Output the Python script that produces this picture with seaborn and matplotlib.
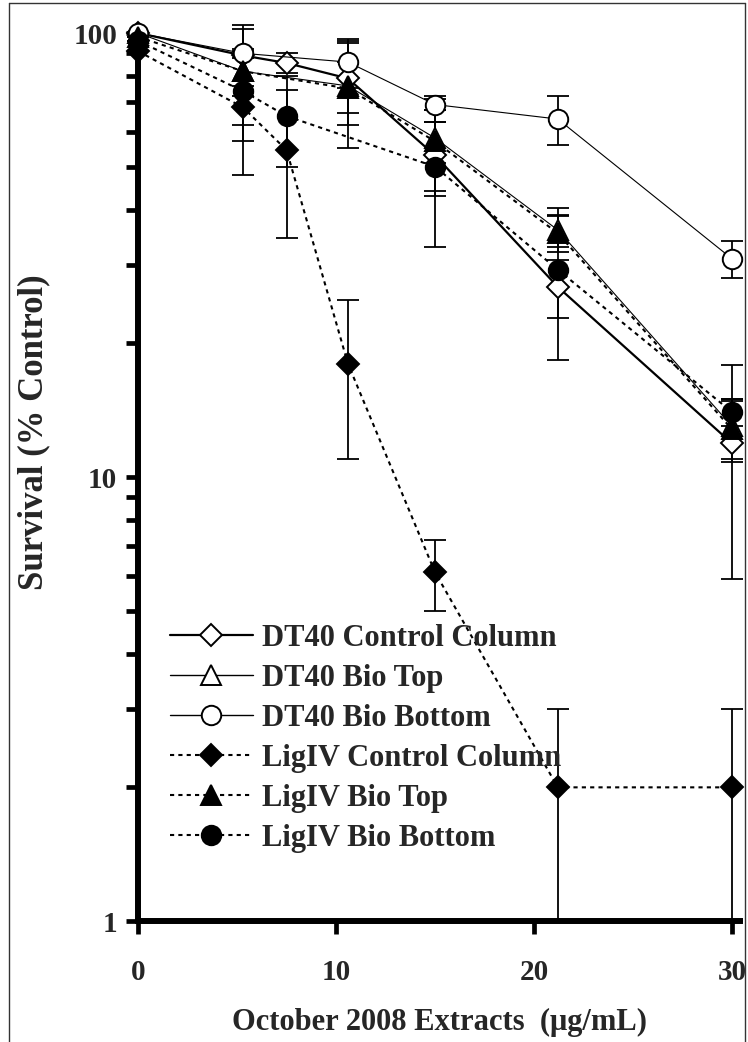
import numpy as np
import pandas as pd
import matplotlib
matplotlib.use("Agg")
import matplotlib.pyplot as plt
import seaborn as sns
from matplotlib.lines import Line2D
from matplotlib.ticker import FixedLocator, NullFormatter, FixedFormatter

# ---------------- data ----------------
x_conc = [0, 5.3, 7.5, 10.6, 15, 21.2, 30]

series_names = ["DT40 Control Column", "DT40 Bio Top", "DT40 Bio Bottom",
                "LigIV Control Column", "LigIV Bio Top", "LigIV Bio Bottom"]

dt40_control = [100, 89, 85.6, 79, 53, 26.8, 11.9]
dt40_control_err = [0, 0, 4.5, 17, 10, 4, 6]
dt40_biotop = [100, 82, None, 76, 58, 36, 13]
dt40_biotop_err = [0, 10, None, 10, 14, 3, 2]
dt40_biobottom = [100, 90, None, 86, 69, 64, 31]
dt40_biobottom_err = [0, 14, None, 11, 2, 8, 3]
ligiv_control = [91, 68, 54.5, 18, 6.1, 2, 2]
ligiv_control_err = [0, 20, 20, 7, 1.1, 1, 1]
ligiv_biotop = [98, 82, None, 75, 57, 35.4, 12.8]
ligiv_biotop_err = [0, 20, None, 20, 6, 3.3, 2]
ligiv_biobottom = [96, 74, 65, None, 50, 29.3, 14]
ligiv_biobottom_err = [0, 17, 15, None, 17, 11, 1]

y_major = [1, 10, 100]
y_major_labels = ["1", "10", "100"]
x_ticks = [0, 10, 20, 30]
x_title = "October 2008 Extracts  (\u03bcg/mL)"
y_title = "Survival (% Control)"

values = [dt40_control, dt40_biotop, dt40_biobottom,
          ligiv_control, ligiv_biotop, ligiv_biobottom]
errors = [dt40_control_err, dt40_biotop_err, dt40_biobottom_err,
          ligiv_control_err, ligiv_biotop_err, ligiv_biobottom_err]

# ---------------- styles ----------------
styles = [
    dict(marker="D", ms=11, mfc="white", ls="-", lw=1.6),
    dict(marker="^", ms=14, mfc="white", ls="-", lw=0.8),
    dict(marker="o", ms=14, mfc="white", ls="-", lw=0.8),
    dict(marker="D", ms=11, mfc="black", ls=(0, (2, 2)), lw=1.5),
    dict(marker="^", ms=14, mfc="black", ls=(0, (2, 2)), lw=1.5),
    dict(marker="o", ms=14, mfc="black", ls=(0, (2, 2)), lw=1.5),
]

sns.set_style("ticks")
plt.rcParams["font.family"] = ["Liberation Serif", "DejaVu Serif"]
plt.rcParams["font.weight"] = "bold"

W, H = 748, 1042
fig = plt.figure(figsize=(W / 100, H / 100), dpi=100)
ax_left, ax_right = 138 / W, 740 / W
ax_top, ax_bot = 1 - 33 / H, 1 - 921 / H
ax = fig.add_axes([ax_left, ax_bot, ax_right - ax_left, ax_top - ax_bot])

for i, name in enumerate(series_names):
    df = pd.DataFrame({"x": x_conc, "y": values[i], "e": errors[i]}).dropna()
    st = styles[i]
    ax.errorbar(df["x"], df["y"], yerr=df["e"], fmt="none", ecolor="black",
                elinewidth=1.3, capsize=8, capthick=1.3, clip_on=False,
                zorder=2 + i * 0.1)
    sns.lineplot(data=df, x="x", y="y", ax=ax, color="black",
                 marker=st["marker"], markersize=st["ms"],
                 markerfacecolor=st["mfc"], markeredgecolor="black",
                 markeredgewidth=1.4, linestyle=st["ls"], linewidth=st["lw"],
                 estimator=None, sort=False, legend=False, clip_on=False,
                 zorder=3 + i * 0.1)

ax.set_yscale("log")
ax.set_ylim(1, 100)
ax.set_xlim(0, 30.4)

ax.yaxis.set_major_locator(FixedLocator(y_major))
ax.yaxis.set_major_formatter(FixedFormatter(y_major_labels))
minor = [v * d for d in (1, 10) for v in range(2, 10)]
ax.yaxis.set_minor_locator(FixedLocator(minor))
ax.yaxis.set_minor_formatter(NullFormatter())
ax.set_xticks(x_ticks)
ax.set_xticklabels([str(t) for t in x_ticks])
ax.xaxis.set_minor_locator(FixedLocator([]))

for s in ["top", "right"]:
    ax.spines[s].set_visible(False)
for s in ["left", "bottom"]:
    ax.spines[s].set_linewidth(4.3)
    ax.spines[s].set_color("black")

ax.tick_params(axis="both", which="both", left=True, bottom=True,
               top=False, right=False)
ax.tick_params(axis="y", which="major", direction="out", length=9, width=3.4,
               labelsize=21, pad=6, color="black")
ax.tick_params(axis="y", which="minor", direction="out", length=9, width=3.4,
               color="black")
ax.tick_params(axis="x", which="major", direction="out", length=9, width=3.4,
               labelsize=21, pad=18, color="black")
for lab in ax.get_xticklabels() + ax.get_yticklabels():
    lab.set_fontweight("bold")

ax.set_xlabel(x_title, fontsize=22, fontweight="bold", labelpad=16)
ax.set_ylabel(y_title, fontsize=25, fontweight="bold")
ax.yaxis.set_label_coords(-0.145, 0.55)

# legend
handles = []
for i, name in enumerate(series_names):
    st = styles[i]
    handles.append(Line2D([], [], color="black", marker=st["marker"],
                          markersize=st["ms"], markerfacecolor=st["mfc"],
                          markeredgecolor="black", markeredgewidth=1.4,
                          linestyle=st["ls"], linewidth=max(st["lw"], 1.0)))
leg = fig.legend(handles, series_names, loc="upper left",
                 bbox_to_anchor=(170 / W, 1 - 624 / H), frameon=False,
                 prop={"family": ["Liberation Serif"], "weight": "bold", "size": 22},
                 handlelength=2.7, handletextpad=0.3, labelspacing=0.36,
                 borderpad=0, borderaxespad=0)

# figure border
bc = "#333333"
fig.add_artist(Line2D([9 / W, 9 / W], [0, 1 - 3 / H], transform=fig.transFigure, color=bc, lw=1))
fig.add_artist(Line2D([745 / W, 745 / W], [0, 1 - 3 / H], transform=fig.transFigure, color=bc, lw=1))
fig.add_artist(Line2D([9 / W, 745 / W], [1 - 3 / H, 1 - 3 / H], transform=fig.transFigure, color=bc, lw=1))

fig.savefig("out.png", dpi=100)
